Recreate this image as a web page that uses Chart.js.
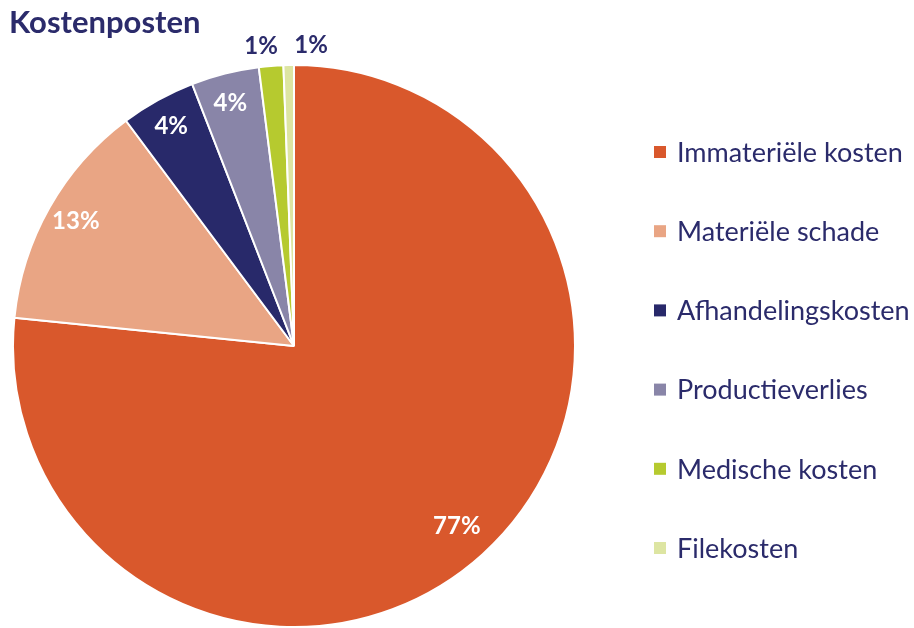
<!DOCTYPE html>
<html>
<head>
<meta charset="utf-8">
<script src="https://cdn.jsdelivr.net/npm/chart.js@4"></script>
<style>
  body { margin: 0; background: #fff; }
  #pie { display: block; }
</style>
</head>
<body>
<canvas id="pie" width="914" height="628"></canvas>
<script>
const categories = [
  "Immateriële kosten",
  "Materiële schade",
  "Afhandelingskosten",
  "Productieverlies",
  "Medische kosten",
  "Filekosten",
];
const shares = [76.6, 13.2, 4.3, 3.9, 1.4, 0.6];
const sliceColors = ["#d9582c", "#e9a584", "#28296a", "#8985a8", "#b6ca2f", "#dde5a2"];

const navy = "#2b2b6b";
const fontFamily = "Lato, 'Open Sans', sans-serif";

// percentages on the slices, small ones go outside
const pctLabels = {
  id: "pctLabels",
  afterDatasetsDraw(chart) {
    const ctx = chart.ctx;
    const meta = chart.getDatasetMeta(0);
    const total = shares.reduce((a, b) => a + b, 0);
    const outside = [];
    ctx.save();
    ctx.font = "bold 24px " + fontFamily;
    ctx.textAlign = "center";
    ctx.textBaseline = "middle";
    meta.data.forEach((arc, i) => {
      const pct = Math.round((shares[i] / total) * 100);
      const mid = (arc.startAngle + arc.endAngle) / 2;
      if (shares[i] / total < 0.02) {
        outside.push({ i, pct, mid, arc });
        return;
      }
      const r = arc.outerRadius * 0.88;
      ctx.fillStyle = "#fff";
      ctx.fillText(pct + "%", arc.x + Math.cos(mid) * r - 3, arc.y + Math.sin(mid) * r - 3);
    });
    outside.forEach((o, k) => {
      const r = o.arc.outerRadius + 20;
      const spread = (k - (outside.length - 1) / 2) * 50;
      ctx.fillStyle = navy;
      ctx.fillText(o.pct + "%", (o.arc.x - 8) + spread, o.arc.y + Math.sin(o.mid) * r);
    });
    ctx.restore();
  },
};

// title and legend on the right
const sideText = {
  id: "sideText",
  afterDraw(chart) {
    const ctx = chart.ctx;
    ctx.save();
    ctx.fillStyle = navy;
    ctx.font = "bold 31px " + fontFamily;
    ctx.textBaseline = "alphabetic";
    ctx.textAlign = "left";
    ctx.fillText("Kostenposten", 9, 33);

    ctx.font = "27px " + fontFamily;
    ctx.textBaseline = "middle";
    categories.forEach((name, i) => {
      const y = 152 + i * 79.2;
      ctx.fillStyle = sliceColors[i];
      ctx.fillRect(654, y - 6, 12, 12);
      ctx.fillStyle = navy;
      ctx.fillText(name, 677, y + 1);
    });
    ctx.restore();
  },
};

new Chart(document.getElementById("pie"), {
  type: "pie",
  data: {
    labels: categories,
    datasets: [
      {
        data: shares,
        backgroundColor: sliceColors,
        borderColor: "#fff",
        borderWidth: 2,
      },
    ],
  },
  options: {
    responsive: false,
    animation: false,
    layout: { padding: { left: 10, top: 64, right: 336, bottom: -4 } },
    plugins: {
      legend: { display: false },
      tooltip: { enabled: false },
      title: { display: false },
    },
  },
  plugins: [pctLabels, sideText],
});
</script>
</body>
</html>
